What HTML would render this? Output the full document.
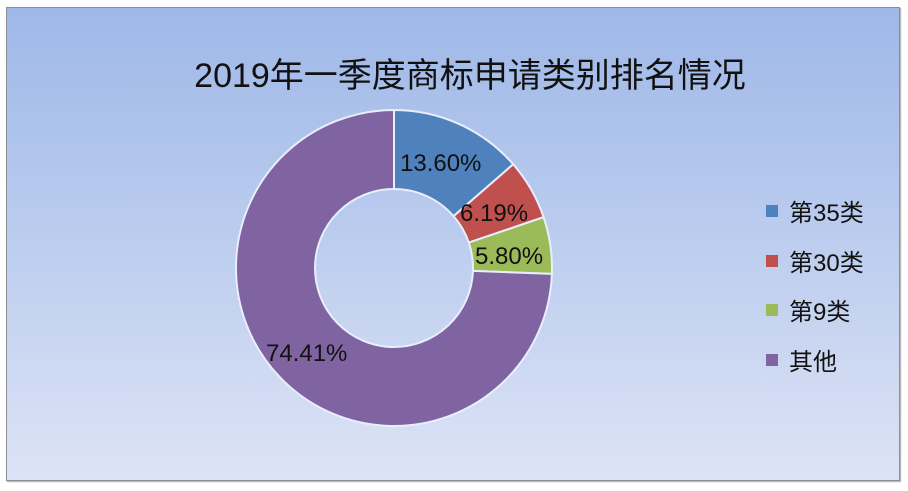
<!DOCTYPE html>
<html><head><meta charset="utf-8"><style>
html,body{margin:0;padding:0;background:#fff;}
body{width:908px;height:491px;position:relative;overflow:hidden;font-family:"Liberation Sans","Noto Sans CJK SC",sans-serif;}
.frame{position:absolute;left:6px;top:7px;width:892px;height:472px;border:1px solid #8a8f96;box-shadow:1px 1px 1px #aaa;background:linear-gradient(180deg,#9fb8e8 0%,#b9cbee 45%,#dde3f5 100%);}
</style></head><body>
<div class="frame"></div>
<svg width="908" height="491" style="position:absolute;left:0;top:0" font-family="Liberation Sans, Noto Sans CJK SC, sans-serif">
<text x="470" y="87" font-size="34" text-anchor="middle" fill="#111">2019年一季度商标申请类别排名情况</text>
<g id="d" stroke="#e8eefa" stroke-width="2"></g>
<g font-size="24" fill="#111">
<text x="400" y="171">13.60%</text>
<text x="460" y="221">6.19%</text>
<text x="475" y="264">5.80%</text>
<text x="266" y="361">74.41%</text>
</g>
<g font-size="24" fill="#111">
<rect x="766" y="205" width="12" height="12" fill="#4f81bd"/><text x="789" y="221">第35类</text>
<rect x="766" y="255" width="12" height="12" fill="#c0504d"/><text x="789" y="271">第30类</text>
<rect x="766" y="304" width="12" height="12" fill="#9bbb59"/><text x="789" y="320">第9类</text>
<rect x="766" y="354" width="12" height="12" fill="#8064a2"/><text x="789" y="370">其他</text>
</g>
</svg>
<script>
(function(){
var cx=394,cy=268,R=158,r=79;
var vals=[13.60,6.19,5.80,74.41],cols=["#4f81bd","#c0504d","#9bbb59","#8064a2"];
var g=document.getElementById("d"),a=0;
function p(rad,deg){var t=(deg-90)*Math.PI/180;return (cx+rad*Math.cos(t)).toFixed(2)+","+(cy+rad*Math.sin(t)).toFixed(2);}
for(var i=0;i<4;i++){var b=a+vals[i]*3.6;var lg=(b-a)>180?1:0;
var d="M"+p(R,a)+" A"+R+","+R+" 0 "+lg+" 1 "+p(R,b)+" L"+p(r,b)+" A"+r+","+r+" 0 "+lg+" 0 "+p(r,a)+" Z";
var e=document.createElementNS("http://www.w3.org/2000/svg","path");e.setAttribute("d",d);e.setAttribute("fill",cols[i]);g.appendChild(e);a=b;}
})();
</script>
</body></html>
